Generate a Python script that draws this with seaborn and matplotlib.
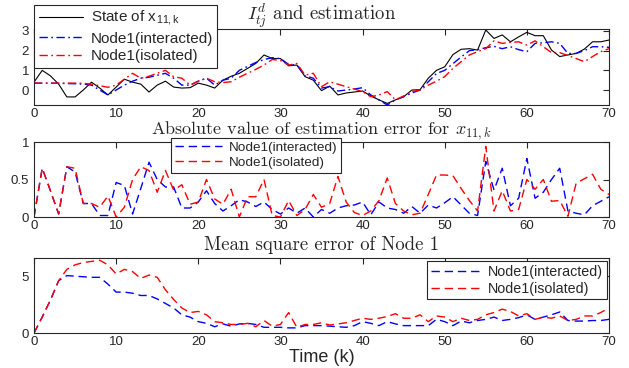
import numpy as np
import pandas as pd
import matplotlib
matplotlib.use("Agg")
import matplotlib.pyplot as plt
import seaborn as sns

# ---------------- data ----------------
k = list(range(71))

state_x11 = [0.4, 1.0, 0.72, 0.3, -0.35, -0.35, 0.0, 0.4, 0.1, -0.25,
             0.15, 0.55, 0.4, 0.3, -0.1, 0.25, 0.45, 0.15, 0.1, 0.12,
             0.35, 0.25, 0.1, 0.5, 0.7, 0.85, 1.1, 1.35, 1.78, 1.6,
             1.6, 1.23, 1.27, 0.68, 0.5, -0.03, 0.2, -0.25, -0.15, -0.1,
             -0.05, -0.3, -0.5, -0.68, -0.5, -0.34, 0.0, 0.02, 0.6, 1.0,
             1.18, 1.8, 2.07, 2.1, 2.03, 3.05, 2.62, 2.8, 2.45, 2.7,
             2.93, 2.76, 2.76, 2.03, 1.7, 1.78, 1.86, 2.08, 2.45, 2.45,
             2.54]

est_interacted = [0.35, 0.35, 0.35, 0.34, 0.33, 0.32, 0.3, 0.25, 0.0, -0.25,
                  0.0, 0.25, 0.45, 0.6, 0.65, 0.75, 0.85, 0.6, 0.25, 0.25,
                  0.45, 0.6, 0.25, 0.5, 0.6, 1.0, 1.2, 1.4, 1.55, 1.64,
                  1.6, 1.3, 1.27, 0.72, 0.6, 0.1, 0.17, -0.05, 0.0, 0.05,
                  0.12, -0.25, -0.5, -0.76, -0.5, -0.34, -0.15, 0.0, 0.42, 0.84,
                  1.0, 1.34, 1.68, 2.0, 2.05, 2.15, 2.22, 2.1, 2.2, 2.05,
                  1.95, 2.37, 2.4, 2.45, 2.37, 1.86, 1.86, 2.0, 2.2, 2.2,
                  2.17]

est_isolated = [0.35, 0.35, 0.35, 0.35, 0.35, 0.35, 0.34, 0.3, 0.22, 0.14,
                0.25, 0.55, 0.85, 0.6, 0.7, 0.85, 1.0, 0.68, 0.6, 0.25,
                0.45, 0.6, 0.42, 0.38, 0.42, 0.65, 0.85, 1.05, 1.27, 1.55,
                1.5, 1.27, 1.35, 0.76, 0.85, 0.17, 0.42, 0.3, 0.17, 0.05,
                -0.08, -0.34, -0.25, -0.08, -0.5, -0.3, -0.08, 0.0, 0.25, 0.45,
                0.68, 1.1, 1.44, 1.78, 1.95, 2.1, 2.5, 2.37, 2.42, 2.45,
                2.28, 2.5, 2.2, 1.9, 1.9, 1.75, 1.6, 1.44, 1.7, 1.95,
                2.1]

abs_err_interacted = [0.0, 0.65, 0.35, 0.04, 0.67, 0.6, 0.18, 0.18, 0.02, 0.02,
                      0.46, 0.42, 0.04, 0.38, 0.73, 0.5, 0.4, 0.4, 0.12, 0.12,
                      0.2, 0.35, 0.18, 0.08, 0.15, 0.23, 0.2, 0.14, 0.2, 0.1,
                      0.04, 0.12, 0.05, 0.12, 0.0, 0.1, 0.05, 0.12, 0.15, 0.16,
                      0.2, 0.03, 0.2, 0.12, 0.1, 0.05, 0.14, 0.05, 0.16, 0.12,
                      0.19, 0.27, 0.16, 0.05, 0.02, 0.74, 0.36, 0.65, 0.15, 0.25,
                      0.78, 0.25, 0.33, 0.5, 0.65, 0.08, 0.05, 0.03, 0.15, 0.21,
                      0.27]

abs_err_isolated = [0.0, 0.65, 0.35, 0.04, 0.67, 0.65, 0.18, 0.18, 0.13, 0.28,
                    0.0, 0.13, 0.5, 0.67, 0.62, 0.33, 0.62, 0.36, 0.43, 0.17,
                    0.2, 0.5, 0.24, 0.17, 0.37, 0.0, 0.27, 0.27, 0.5, 0.02,
                    0.0, 0.22, 0.02, 0.1, 0.3, 0.13, 0.18, 0.54, 0.2, 0.06,
                    0.02, 0.08, 0.22, 0.52, 0.18, 0.08, 0.03, 0.05, 0.3, 0.56,
                    0.56, 0.55, 0.38, 0.22, 0.08, 0.94, 0.08, 0.35, 0.08, 0.1,
                    0.5, 0.37, 0.5, 0.21, 0.22, 0.01, 0.45, 0.51, 0.57, 0.37,
                    0.3]

mse_interacted = [0.0, 1.4, 2.9, 4.6, 5.05, 5.0, 4.95, 4.9, 4.9, 4.3,
                  3.6, 3.6, 3.5, 3.3, 3.3, 3.0, 2.6, 2.2, 1.6, 1.4,
                  1.0, 0.85, 0.55, 0.8, 0.6, 0.8, 0.85, 0.75, 0.5, 0.5,
                  0.5, 0.45, 0.45, 0.65, 0.65, 0.65, 0.6, 0.55, 0.5, 0.65,
                  1.0, 0.85, 0.65, 1.0, 0.8, 0.65, 0.65, 0.65, 0.65, 1.2,
                  1.0, 0.65, 1.05, 0.9, 1.1, 1.2, 1.4, 1.1, 1.2, 1.35,
                  1.6, 1.2, 1.4, 1.6, 1.85, 1.1, 1.05, 1.05, 1.1, 1.1,
                  1.2]

mse_isolated = [0.0, 1.4, 2.9, 4.6, 5.6, 6.0, 6.2, 6.3, 6.4, 6.0,
                5.2, 5.6, 5.4, 4.8, 5.1, 4.9, 3.8, 2.95, 2.2, 1.8,
                1.9, 1.6, 1.0, 0.9, 0.75, 0.75, 0.85, 0.55, 1.1, 0.6,
                0.75, 1.8, 0.5, 0.75, 0.75, 0.9, 0.7, 0.8, 0.9, 1.1,
                1.3, 1.2, 1.3, 1.45, 1.7, 1.3, 1.3, 1.6, 1.0, 1.5,
                1.4, 1.0, 1.3, 1.1, 1.2, 1.6, 1.8, 2.1, 1.9, 1.5,
                1.7, 1.2, 1.4, 1.3, 1.5, 1.1, 1.2, 1.5, 1.5, 1.8,
                2.2]

label_state = r"State of x$_{\mathregular{11,k}}$"
label_inter = "Node1(interacted)"
label_iso = "Node1(isolated)"
title_top = r"$I_{tj}^{d}$ and estimation"
title_mid = r"Absolute value of estimation error for $x_{11,k}$"
title_bot = "Mean square error of Node 1"
xlabel = "Time (k)"

# ---------------- style ----------------
sns.set_style("white")
plt.rcParams["font.family"] = ["Liberation Sans", "DejaVu Sans"]
plt.rcParams["mathtext.fontset"] = "cm"
GRAY = "#262626"

fig = plt.figure(figsize=(6.29, 3.68), dpi=100)
W, H = 629, 368
def ax_at(l, t, r, b):
    return fig.add_axes([l / W, 1 - b / H, (r - l) / W, (b - t) / H])

ax1 = ax_at(34, 29, 609, 105)
ax2 = ax_at(34, 142, 609, 217)
ax3 = ax_at(34, 258, 609, 333)

df = pd.DataFrame({"k": k, "state": state_x11, "ei": est_interacted, "es": est_isolated,
                   "ai": abs_err_interacted, "as": abs_err_isolated,
                   "mi": mse_interacted, "ms": mse_isolated})

# top panel
sns.lineplot(data=df, x="k", y="state", ax=ax1, color="black", lw=0.8, label=label_state)
sns.lineplot(data=df, x="k", y="ei", ax=ax1, color="#0000ff", lw=1.0, label=label_inter)
ax1.lines[-1].set_dashes((6, 2.5, 1.2, 2.5))
sns.lineplot(data=df, x="k", y="es", ax=ax1, color="#ff0000", lw=1.0, label=label_iso)
ax1.lines[-1].set_dashes((6, 2.5, 1.2, 2.5))

# middle
sns.lineplot(data=df, x="k", y="ai", ax=ax2, color="#0000ff", lw=1.0, label=label_inter)
ax2.lines[-1].set_dashes((6, 3.5))
sns.lineplot(data=df, x="k", y="as", ax=ax2, color="#ff0000", lw=1.0, label=label_iso)
ax2.lines[-1].set_dashes((6, 3.5))

# bottom
sns.lineplot(data=df, x="k", y="mi", ax=ax3, color="#0000ff", lw=1.0, label=label_inter)
ax3.lines[-1].set_dashes((6, 3.5))
sns.lineplot(data=df, x="k", y="ms", ax=ax3, color="#ff0000", lw=1.0, label=label_iso)
ax3.lines[-1].set_dashes((6, 3.5))

ylims = [(-0.76, 3.1), (0, 1), (0, 6.6)]
yticks = [[0, 1, 2, 3], [0, 0.5, 1], [0, 5]]
yticklabels = [["0", "1", "2", "3"], ["0", "0.5", "1"], ["0", "5"]]
titles = [title_top, title_mid, title_bot]
pads = [6.5, 5.5, 6]
tsizes = [13.5, 13, 13.5]
for ax, yl, yt, ytl, tt, pd_, ts in zip([ax1, ax2, ax3], ylims, yticks, yticklabels, titles, pads, tsizes):
    ax.set_xlim(0, 70)
    ax.set_ylim(*yl)
    ax.set_xticks(range(0, 71, 10))
    ax.set_xticklabels([str(v) for v in range(0, 71, 10)])
    ax.set_yticks(yt)
    ax.set_yticklabels(ytl)
    ax.set_xlabel("")
    ax.set_ylabel("")
    ax.tick_params(direction="in", length=4, width=0.8, colors=GRAY, labelsize=9.5,
                   top=True, right=True, labelcolor=GRAY)
    ax.tick_params(axis="x", pad=2)
    ax.tick_params(axis="y", pad=3.5)
    for s in ax.spines.values():
        s.set_color(GRAY)
        s.set_linewidth(0.8)
        s.set_visible(True)
    ax.set_title(tt, fontsize=ts, family="cmr10", pad=pd_)

ax3.set_xlabel(xlabel, fontsize=13, color=GRAY, labelpad=1)

leg_kw = dict(frameon=True, fancybox=False, edgecolor=GRAY, framealpha=1, borderaxespad=0)
l1 = ax1.legend(loc="upper left", bbox_to_anchor=(0, 1.32), fontsize=11, handlelength=2.9,
                borderpad=0.3, labelspacing=0.22, handletextpad=0.5, **leg_kw)
l2 = ax2.legend(loc="upper left", bbox_to_anchor=(0.238, 1.06), fontsize=9.7, handlelength=3.5,
                borderpad=0.3, labelspacing=0.2, handletextpad=0.5, **leg_kw)
l3 = ax3.legend(loc="upper right", bbox_to_anchor=(0.9965, 0.96), fontsize=10.3, handlelength=3.5,
                borderpad=0.25, labelspacing=0.22, handletextpad=0.5, **leg_kw)
for l in (l1, l2, l3):
    l.get_frame().set_linewidth(0.8)

fig.savefig("out.png", dpi=100)
